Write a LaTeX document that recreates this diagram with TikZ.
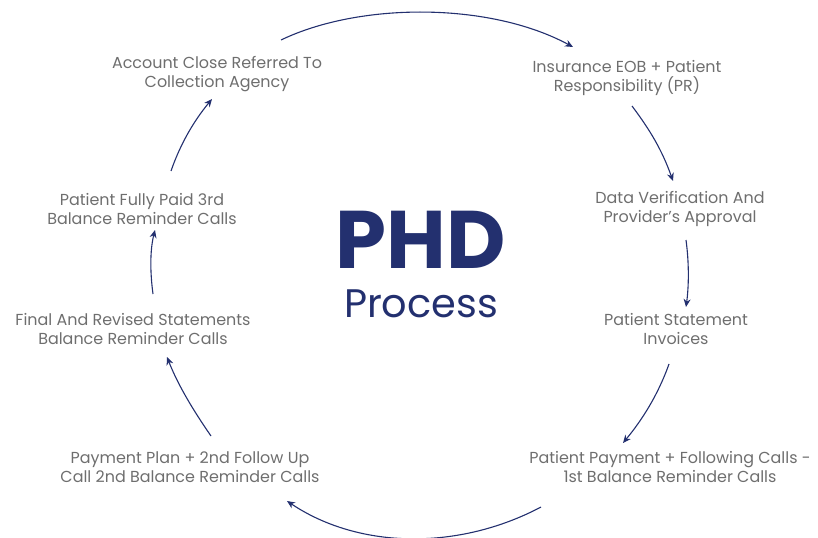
\documentclass[tikz,border=0pt]{standalone}
\usepackage{fontspec}
\setmainfont{Poppins}
\usetikzlibrary{arrows.meta}
\definecolor{navy}{HTML}{23306F}
\definecolor{txt}{HTML}{6E6E6E}
\begin{document}
\begin{tikzpicture}[x=1bp,y=-1bp,
  lbl/.style={text=txt,align=center,font=\fontsize{16}{19}\selectfont,inner sep=0},
  arr/.style={draw=navy,line width=1.1bp,-{Stealth[length=8bp,width=7bp]}}]
\useasboundingbox (0,0) rectangle (818,538);
\node[lbl] (n1) at (217,74) {Account Close Referred To\\Collection Agency};
\node[lbl] (n2) at (627,78) {Insurance EOB + Patient\\Responsibility (PR)};
\node[lbl] (n3) at (680,209) {Data Verification And\\Provider's Approval};
\node[lbl] (n4) at (676,329) {Patient Statement\\Invoices};
\node[lbl] (n5) at (670,467) {Patient Payment + Following Calls -\\1st Balance Reminder Calls};
\node[lbl] (n6) at (190,467) {Payment Plan + 2nd Follow Up\\Call 2nd Balance Reminder Calls};
\node[lbl] (n7) at (133,329) {Final And Revised Statements\\Balance Reminder Calls};
\node[lbl] (n8) at (142,209) {Patient Fully Paid 3rd\\Balance Reminder Calls};
\node[text=navy,font=\bfseries\fontsize{82}{82}\selectfont,inner sep=0] (phd) at (421,240) {PHD};
\node[text=navy,font=\fontsize{40}{40}\selectfont,inner sep=0] (proc) at (421,304) {Process};
\coordinate (a1) at (281,40); \coordinate (b1) at (573,47);
\coordinate (a2) at (632,106); \coordinate (b2) at (673,181);
\coordinate (a3) at (686,240); \coordinate (b3) at (686,307);
\coordinate (a4) at (669,364); \coordinate (b4) at (623,443);
\coordinate (a5) at (541,507); \coordinate (b5) at (287,501);
\coordinate (a6) at (211,436); \coordinate (b6) at (167,357);
\coordinate (a7) at (153,294); \coordinate (b7) at (155,230);
\coordinate (a8) at (171,171); \coordinate (b8) at (212,99);
\draw[arr] (a1) .. controls (360,2) and (490,2) .. (b1);
\draw[arr] (a2) .. controls (650,130) and (662,150) .. (b2);
\draw[arr] (a3) .. controls (689,262) and (689,285) .. (b3);
\draw[arr] (a4) .. controls (658,395) and (642,420) .. (b4);
\draw[arr] (a5) .. controls (460,550) and (360,550) .. (b5);
\draw[arr] (a6) .. controls (193,410) and (178,385) .. (b6);
\draw[arr] (a7) .. controls (150,272) and (150,250) .. (b7);
\draw[arr] (a8) .. controls (180,145) and (193,122) .. (b8);
\end{tikzpicture}
\end{document}
